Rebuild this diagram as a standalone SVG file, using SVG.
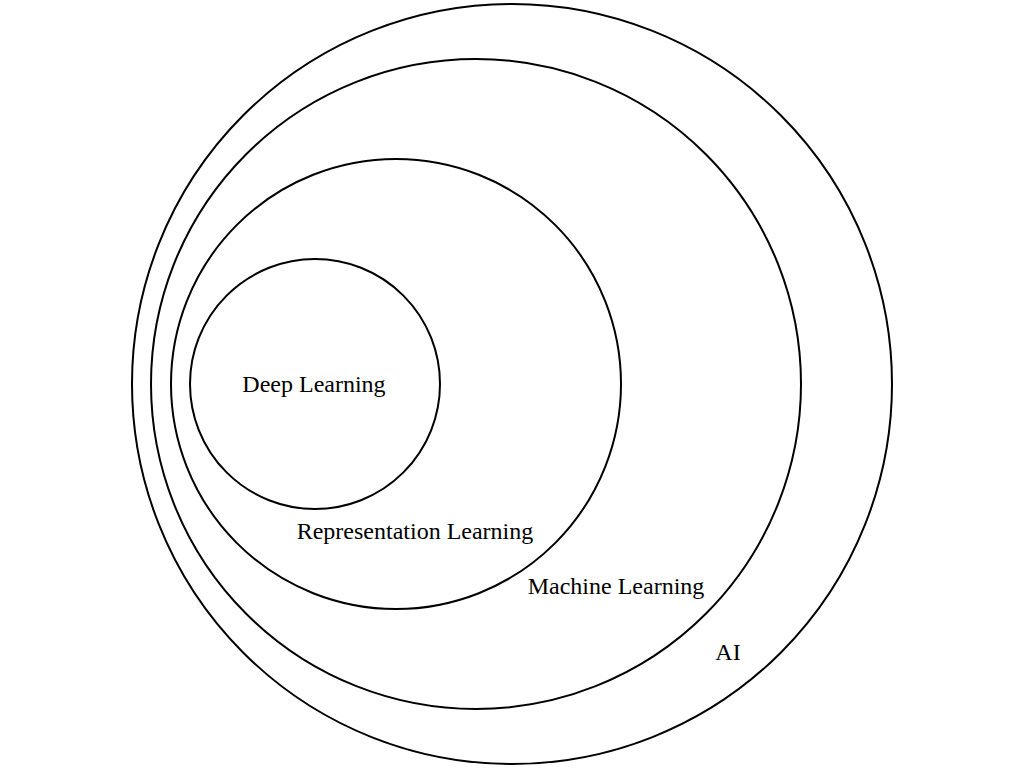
<svg xmlns="http://www.w3.org/2000/svg" width="1024" height="768" viewBox="0 0 1024 768">
<style>
circle{fill:none;stroke:#000;stroke-width:2}
text{font-family:"Liberation Serif","Times New Roman",serif;font-size:24px;fill:#000;text-anchor:middle}
</style>
<rect width="1024" height="768" fill="#fff"/>
<g id="ai"><circle cx="512" cy="384" r="380"/><text x="728" y="660">AI</text></g>
<g id="ml"><circle cx="476" cy="384" r="325"/><text x="616" y="594">Machine Learning</text></g>
<g id="rl"><circle cx="396" cy="384" r="225"/><text x="415" y="539">Representation Learning</text></g>
<g id="dl"><circle cx="315" cy="384" r="125"/><text x="314" y="392">Deep Learning</text></g>
<g id="connectors"/>
</svg>
